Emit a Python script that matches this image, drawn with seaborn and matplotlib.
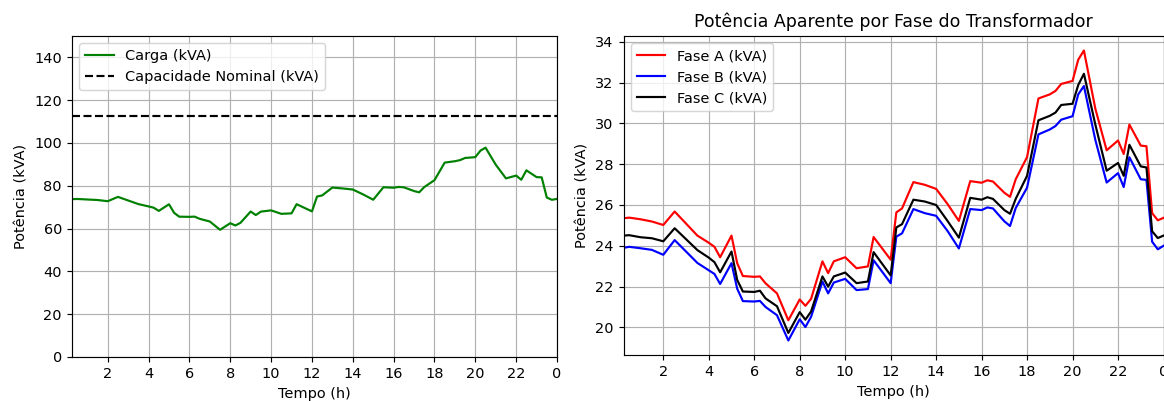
import matplotlib
matplotlib.use("Agg")
import matplotlib.pyplot as plt
import seaborn as sns
import pandas as pd

# Time of day (hours) of each sample
horas = [0.25, 0.5, 1.0, 1.5, 2.0, 2.5, 3.5, 4.0, 4.25, 4.5, 5.0, 5.25, 5.5, 6.0,
         6.25, 6.5, 7.0, 7.5, 8.0, 8.25, 8.5, 9.0, 9.25, 9.5, 10.0, 10.5, 11.0,
         11.25, 12.0, 12.25, 12.5, 13.0, 13.5, 14.0, 14.5, 15.0, 15.5, 16.0,
         16.25, 16.5, 17.0, 17.25, 17.5, 18.0, 18.5, 19.0, 19.25, 19.5, 20.0,
         20.25, 20.5, 21.0, 21.5, 22.0, 22.25, 22.5, 23.0, 23.25, 23.5, 23.75, 24.0]

# Apparent power per phase (kVA)
fase_a = [25.35, 25.38, 25.30, 25.19, 25.02, 25.68, 24.50, 24.15, 23.95, 23.44,
          24.50, 23.15, 22.52, 22.48, 22.50, 22.16, 21.67, 20.35, 21.37, 21.06,
          21.40, 23.24, 22.66, 23.24, 23.44, 22.90, 22.99, 24.43, 23.32, 25.64,
          25.83, 27.12, 26.99, 26.79, 26.05, 25.22, 27.17, 27.09, 27.21, 27.15,
          26.60, 26.40, 27.26, 28.35, 31.22, 31.42, 31.59, 31.93, 32.08, 33.12,
          33.57, 30.73, 28.68, 29.16, 28.50, 29.94, 28.91, 28.88, 25.60, 25.25, 25.37]
fase_b = [23.90, 23.95, 23.88, 23.80, 23.56, 24.28, 23.16, 22.80, 22.62, 22.13,
          23.15, 21.90, 21.29, 21.27, 21.30, 21.00, 20.60, 19.36, 20.40, 20.02,
          20.52, 22.25, 21.67, 22.20, 22.38, 21.83, 21.88, 23.29, 22.17, 24.45,
          24.61, 25.80, 25.60, 25.47, 24.73, 23.87, 25.80, 25.75, 25.88, 25.83,
          25.20, 24.97, 25.85, 26.85, 29.46, 29.70, 29.87, 30.18, 30.35, 31.42,
          31.83, 29.20, 27.10, 27.56, 26.88, 28.34, 27.26, 27.23, 24.20, 23.83, 24.00]
fase_c = [24.50, 24.52, 24.42, 24.37, 24.22, 24.86, 23.79, 23.42, 23.20, 22.70,
          23.72, 22.33, 21.76, 21.74, 21.80, 21.42, 21.04, 19.73, 20.75, 20.38,
          20.78, 22.50, 22.00, 22.50, 22.69, 22.17, 22.25, 23.69, 22.55, 24.90,
          25.06, 26.26, 26.17, 26.00, 25.22, 24.40, 26.35, 26.26, 26.38, 26.30,
          25.75, 25.57, 26.30, 27.43, 30.15, 30.37, 30.53, 30.90, 30.96, 31.88,
          32.43, 29.95, 27.68, 28.06, 27.43, 28.95, 27.89, 27.84, 24.71, 24.38, 24.50]

# Total transformer load (kVA)
carga = [73.75, 73.85, 73.60, 73.36, 72.80, 74.82, 71.45, 70.37, 69.77, 68.27,
         71.37, 67.38, 65.57, 65.49, 65.60, 64.58, 63.31, 59.44, 62.52, 61.46,
         62.70, 67.99, 66.33, 67.94, 68.51, 66.90, 67.12, 71.41, 68.04, 74.99,
         75.50, 79.18, 78.76, 78.26, 76.00, 73.49, 79.32, 79.10, 79.47, 79.28,
         77.55, 76.94, 79.41, 82.63, 90.83, 91.49, 91.99, 93.01, 93.39, 96.42,
         97.83, 89.88, 83.46, 84.78, 82.81, 87.23, 84.06, 83.95, 74.51, 73.46, 73.87]

capacidade_nominal = 112.5

tick_horas = list(range(2, 25, 2))
tick_rotulos = [str(h % 24) for h in tick_horas]

df = pd.DataFrame({"Tempo": horas, "Carga": carga,
                   "A": fase_a, "B": fase_b, "C": fase_c})

DPI = 104
W, H = 1164, 401
fig = plt.figure(figsize=(W / DPI, H / DPI), dpi=DPI)
ax1 = fig.add_axes([72 / W, 1 - 357 / H, 485 / W, 321 / H])
ax2 = fig.add_axes([623.5 / W, 1 - 355 / H, 540 / W, 319 / H])

# Total load vs. rated capacity
sns.lineplot(data=df, x="Tempo", y="Carga", ax=ax1, color="green",
             linewidth=1.5, label="Carga (kVA)")
ax1.axhline(capacidade_nominal, color="black", linestyle="--", linewidth=1.5,
            label="Capacidade Nominal (kVA)")
ax1.set_ylim(0, 150)
ax1.set_xlim(horas[0], horas[-1])
ax1.set_xticks(tick_horas, tick_rotulos)
ax1.set_xlabel("Tempo (h)")
ax1.set_ylabel("Potência (kVA)")
ax1.grid(True)
ax1.legend(loc="upper left")

# Per-phase apparent power
for col, cor, nome in [("A", "red", "Fase A (kVA)"),
                       ("B", "blue", "Fase B (kVA)"),
                       ("C", "black", "Fase C (kVA)")]:
    sns.lineplot(data=df, x="Tempo", y=col, ax=ax2, color=cor,
                 linewidth=1.5, label=nome)
ax2.set_xlim(horas[0], horas[-1])
ax2.set_xticks(tick_horas, tick_rotulos)
ax2.set_xlabel("Tempo (h)")
ax2.set_ylabel("Potência (kVA)")
ax2.set_title("Potência Aparente por Fase do Transformador")
ax2.grid(True)
ax2.legend(loc="upper left")

fig.savefig("out.png", dpi=DPI)
